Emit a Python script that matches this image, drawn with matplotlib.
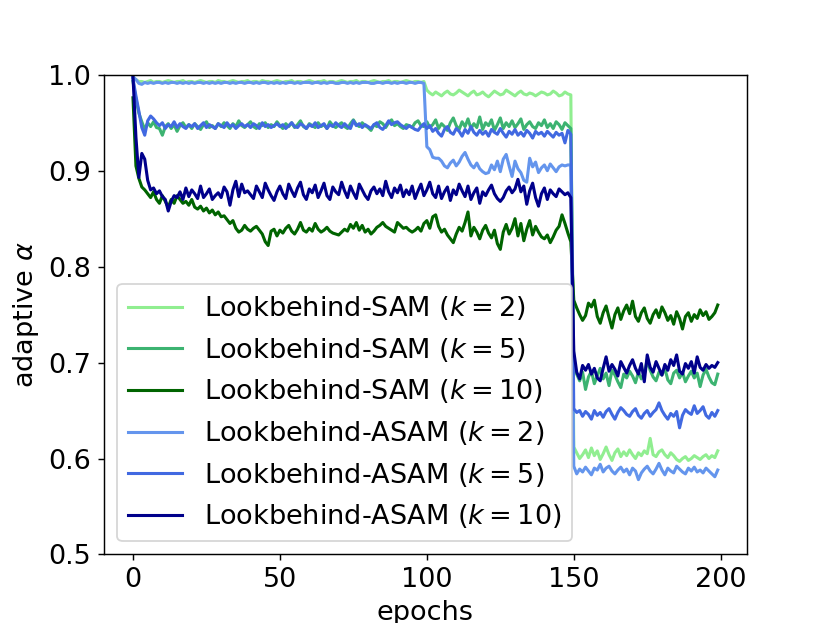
import numpy as np
import matplotlib
matplotlib.use("Agg")
import matplotlib.pyplot as plt

plt.rcParams['font.family'] = ['DejaVu Sans']
plt.rcParams['font.size'] = 15

labels = [
    'Lookbehind-SAM ($k=2$)',
    'Lookbehind-SAM ($k=5$)',
    'Lookbehind-SAM ($k=10$)',
    'Lookbehind-ASAM ($k=2$)',
    'Lookbehind-ASAM ($k=5$)',
    'Lookbehind-ASAM ($k=10$)',
]
colors = ['lightgreen', 'mediumseagreen', 'darkgreen',
          'cornflowerblue', 'royalblue', 'darkblue']

sam_k2 = [
    0.997,0.995,0.993,0.993,0.992,0.993,0.994,0.992,0.993,0.993,
    0.992,0.993,0.994,0.993,0.992,0.993,0.993,0.994,0.992,0.993,
    0.993,0.992,0.993,0.994,0.993,0.992,0.993,0.993,0.992,0.994,
    0.993,0.993,0.992,0.993,0.994,0.993,0.992,0.993,0.993,0.994,
    0.992,0.993,0.993,0.992,0.994,0.993,0.993,0.992,0.993,0.994,
    0.993,0.992,0.993,0.993,0.994,0.992,0.993,0.993,0.992,0.993,
    0.994,0.993,0.992,0.993,0.993,0.994,0.992,0.993,0.993,0.992,
    0.993,0.994,0.993,0.992,0.993,0.993,0.994,0.992,0.993,0.993,
    0.992,0.993,0.994,0.993,0.992,0.993,0.993,0.994,0.992,0.993,
    0.993,0.992,0.993,0.994,0.993,0.992,0.993,0.993,0.992,0.993,
    0.984,0.981,0.979,0.982,0.980,0.978,0.981,0.983,0.980,0.979,
    0.981,0.984,0.982,0.980,0.978,0.981,0.983,0.979,0.980,0.982,
    0.979,0.977,0.980,0.983,0.981,0.979,0.980,0.984,0.982,0.980,
    0.978,0.981,0.983,0.980,0.979,0.981,0.980,0.978,0.980,0.982,
    0.981,0.979,0.980,0.983,0.981,0.978,0.979,0.982,0.980,0.979,
    0.612,0.606,0.600,0.604,0.609,0.601,0.611,0.603,0.608,0.599,
    0.605,0.612,0.604,0.598,0.606,0.610,0.602,0.607,0.603,0.609,
    0.604,0.600,0.606,0.603,0.608,0.605,0.621,0.604,0.602,0.607,
    0.609,0.604,0.601,0.606,0.603,0.599,0.597,0.600,0.602,0.598,
    0.600,0.603,0.601,0.599,0.602,0.604,0.600,0.603,0.601,0.608,
]

sam_k5 = [
    0.993,0.975,0.960,0.951,0.943,0.950,0.946,0.951,0.945,0.944,
    0.937,0.946,0.949,0.944,0.948,0.941,0.947,0.950,0.945,0.948,
    0.944,0.949,0.946,0.943,0.948,0.951,0.945,0.947,0.944,0.949,
    0.946,0.950,0.947,0.944,0.949,0.946,0.952,0.947,0.945,0.948,
    0.951,0.946,0.944,0.949,0.947,0.950,0.945,0.948,0.946,0.951,
    0.947,0.944,0.949,0.946,0.950,0.945,0.948,0.952,0.946,0.944,
    0.949,0.947,0.945,0.950,0.946,0.948,0.944,0.951,0.947,0.945,
    0.948,0.950,0.946,0.944,0.949,0.953,0.948,0.946,0.950,0.947,
    0.945,0.942,0.948,0.946,0.951,0.949,0.945,0.950,0.953,0.947,
    0.949,0.946,0.944,0.948,0.947,0.945,0.950,0.952,0.947,0.946,
    0.951,0.945,0.948,0.953,0.944,0.949,0.946,0.942,0.950,0.955,
    0.947,0.943,0.951,0.946,0.954,0.944,0.949,0.945,0.956,0.943,
    0.950,0.947,0.953,0.942,0.948,0.955,0.944,0.950,0.946,0.952,
    0.945,0.949,0.954,0.943,0.948,0.951,0.946,0.944,0.950,0.947,
    0.953,0.945,0.949,0.944,0.951,0.948,0.943,0.950,0.947,0.944,
    0.693,0.688,0.681,0.690,0.672,0.685,0.691,0.678,0.686,0.694,
    0.683,0.689,0.676,0.692,0.687,0.680,0.674,0.688,0.684,0.691,
    0.686,0.679,0.690,0.683,0.688,0.703,0.692,0.685,0.681,0.690,
    0.687,0.694,0.682,0.678,0.689,0.692,0.684,0.690,0.680,0.686,
    0.691,0.684,0.689,0.675,0.687,0.693,0.685,0.679,0.677,0.688,
]

sam_k10 = [
    0.976,0.905,0.892,0.883,0.880,0.876,0.872,0.878,0.870,0.866,
    0.874,0.868,0.862,0.870,0.866,0.874,0.870,0.866,0.868,0.864,
    0.870,0.862,0.860,0.863,0.858,0.861,0.856,0.859,0.854,0.857,
    0.852,0.853,0.849,0.845,0.848,0.840,0.836,0.838,0.843,0.839,
    0.837,0.840,0.842,0.838,0.834,0.826,0.822,0.837,0.839,0.832,
    0.838,0.835,0.840,0.843,0.837,0.834,0.839,0.846,0.838,0.836,
    0.840,0.837,0.845,0.839,0.836,0.838,0.841,0.837,0.835,0.834,
    0.833,0.836,0.839,0.837,0.844,0.840,0.846,0.838,0.843,0.836,
    0.839,0.834,0.837,0.841,0.843,0.846,0.842,0.840,0.838,0.836,
    0.846,0.843,0.840,0.841,0.838,0.836,0.838,0.841,0.837,0.845,
    0.848,0.840,0.852,0.854,0.842,0.836,0.839,0.833,0.829,0.825,
    0.834,0.841,0.837,0.846,0.857,0.832,0.841,0.836,0.829,0.838,
    0.843,0.835,0.830,0.838,0.824,0.818,0.836,0.844,0.834,0.840,
    0.850,0.832,0.845,0.827,0.839,0.848,0.833,0.842,0.836,0.831,
    0.829,0.833,0.825,0.831,0.838,0.842,0.854,0.845,0.835,0.826,
    0.765,0.757,0.750,0.744,0.749,0.762,0.758,0.765,0.748,0.741,
    0.752,0.759,0.747,0.736,0.750,0.757,0.745,0.754,0.760,0.751,
    0.764,0.748,0.743,0.752,0.757,0.746,0.741,0.750,0.755,0.747,
    0.758,0.752,0.744,0.749,0.740,0.753,0.746,0.735,0.748,0.752,
    0.743,0.750,0.746,0.755,0.749,0.753,0.745,0.748,0.752,0.760,
]

asam_k2 = [
    0.998,0.995,0.991,0.990,0.992,0.991,0.992,0.991,0.992,0.992,
    0.991,0.992,0.991,0.992,0.992,0.991,0.992,0.991,0.992,0.991,
    0.992,0.991,0.992,0.992,0.991,0.992,0.991,0.992,0.991,0.992,
    0.991,0.992,0.992,0.991,0.992,0.991,0.992,0.992,0.991,0.992,
    0.992,0.991,0.992,0.991,0.992,0.992,0.991,0.992,0.991,0.992,
    0.991,0.992,0.991,0.992,0.992,0.991,0.992,0.991,0.992,0.992,
    0.992,0.991,0.992,0.992,0.991,0.992,0.991,0.992,0.992,0.991,
    0.991,0.992,0.992,0.991,0.992,0.991,0.992,0.991,0.992,0.992,
    0.992,0.991,0.991,0.992,0.992,0.991,0.992,0.992,0.991,0.992,
    0.991,0.992,0.992,0.991,0.992,0.992,0.991,0.992,0.992,0.991,
    0.925,0.922,0.914,0.913,0.913,0.910,0.905,0.903,0.908,0.911,
    0.905,0.909,0.915,0.919,0.912,0.906,0.903,0.908,0.902,0.899,
    0.897,0.898,0.906,0.901,0.910,0.899,0.912,0.917,0.905,0.894,
    0.910,0.902,0.898,0.890,0.888,0.913,0.904,0.909,0.898,0.903,
    0.906,0.900,0.907,0.903,0.899,0.904,0.906,0.905,0.906,0.906,
    0.592,0.584,0.589,0.586,0.591,0.587,0.583,0.590,0.588,0.594,
    0.586,0.590,0.592,0.587,0.584,0.588,0.591,0.586,0.589,0.583,
    0.590,0.587,0.578,0.585,0.589,0.592,0.587,0.584,0.589,0.595,
    0.588,0.583,0.590,0.587,0.585,0.592,0.589,0.586,0.584,0.590,
    0.587,0.591,0.586,0.588,0.585,0.590,0.587,0.584,0.581,0.588,
]

asam_k5 = [
    0.996,0.978,0.962,0.945,0.937,0.952,0.957,0.954,0.950,0.947,
    0.950,0.944,0.948,0.946,0.951,0.945,0.949,0.946,0.944,0.948,
    0.946,0.949,0.944,0.947,0.950,0.945,0.948,0.946,0.944,0.949,
    0.947,0.945,0.950,0.946,0.948,0.944,0.947,0.949,0.946,0.948,
    0.945,0.949,0.947,0.944,0.950,0.946,0.948,0.945,0.947,0.949,
    0.946,0.948,0.944,0.947,0.950,0.946,0.945,0.949,0.947,0.944,
    0.948,0.946,0.950,0.945,0.947,0.949,0.944,0.948,0.946,0.950,
    0.947,0.945,0.949,0.946,0.944,0.952,0.947,0.949,0.945,0.948,
    0.946,0.944,0.948,0.950,0.945,0.943,0.947,0.952,0.948,0.950,
    0.951,0.948,0.946,0.944,0.947,0.945,0.943,0.942,0.946,0.949,
    0.944,0.947,0.941,0.944,0.939,0.936,0.943,0.946,0.940,0.938,
    0.944,0.941,0.936,0.943,0.939,0.946,0.940,0.937,0.942,0.938,
    0.941,0.936,0.943,0.940,0.938,0.944,0.939,0.935,0.941,0.938,
    0.943,0.937,0.940,0.936,0.942,0.939,0.934,0.941,0.938,0.940,
    0.936,0.941,0.938,0.935,0.940,0.937,0.939,0.929,0.942,0.938,
    0.652,0.648,0.650,0.644,0.649,0.646,0.641,0.650,0.645,0.648,
    0.643,0.649,0.652,0.646,0.641,0.648,0.653,0.650,0.646,0.644,
    0.649,0.652,0.645,0.642,0.647,0.650,0.644,0.648,0.651,0.658,
    0.650,0.645,0.641,0.647,0.644,0.649,0.632,0.645,0.651,0.648,
    0.646,0.655,0.647,0.650,0.654,0.645,0.642,0.648,0.644,0.650,
]

asam_k10 = [
    0.998,0.935,0.893,0.918,0.912,0.890,0.880,0.882,0.876,0.879,
    0.873,0.870,0.858,0.868,0.874,0.872,0.878,0.870,0.882,0.873,
    0.880,0.876,0.871,0.884,0.872,0.876,0.881,0.870,0.874,0.877,
    0.872,0.883,0.878,0.864,0.880,0.889,0.873,0.886,0.877,0.879,
    0.875,0.871,0.884,0.878,0.872,0.887,0.880,0.874,0.869,0.878,
    0.884,0.876,0.871,0.886,0.879,0.873,0.882,0.888,0.875,0.870,
    0.881,0.877,0.885,0.872,0.879,0.887,0.874,0.870,0.883,0.878,
    0.875,0.888,0.879,0.872,0.884,0.877,0.871,0.886,0.880,0.874,
    0.870,0.879,0.883,0.876,0.881,0.874,0.889,0.878,0.872,0.882,
    0.877,0.885,0.873,0.880,0.875,0.884,0.871,0.879,0.886,0.874,
    0.880,0.888,0.876,0.872,0.884,0.871,0.878,0.883,0.869,0.880,
    0.875,0.886,0.879,0.873,0.884,0.870,0.877,0.882,0.866,0.878,
    0.874,0.880,0.885,0.876,0.871,0.868,0.872,0.879,0.883,0.877,
    0.881,0.891,0.878,0.884,0.865,0.879,0.887,0.872,0.863,0.876,
    0.882,0.870,0.880,0.876,0.873,0.881,0.878,0.875,0.877,0.872,
    0.712,0.690,0.683,0.697,0.692,0.698,0.688,0.694,0.684,0.681,
    0.694,0.706,0.691,0.698,0.693,0.686,0.701,0.695,0.689,0.697,
    0.703,0.694,0.688,0.699,0.680,0.708,0.695,0.690,0.701,0.694,
    0.687,0.698,0.692,0.703,0.697,0.708,0.691,0.688,0.699,0.694,
    0.701,0.689,0.706,0.695,0.692,0.698,0.694,0.697,0.695,0.700,
]

series = [sam_k2, sam_k5, sam_k10, asam_k2, asam_k5, asam_k10]

fig, ax = plt.subplots(figsize=(830 / 130, 623 / 130), dpi=130)
for vals, lab, col in zip(series, labels, colors):
    epochs = np.arange(len(vals))
    ax.plot(epochs, vals, color=col, label=lab, linewidth=1.7)

ax.set_ylim(0.5, 1.0)
ax.set_xlabel('epochs')
ax.set_ylabel(r'adaptive $\alpha$')
ax.legend(loc='lower left')
fig.savefig('out.png', dpi=130)
